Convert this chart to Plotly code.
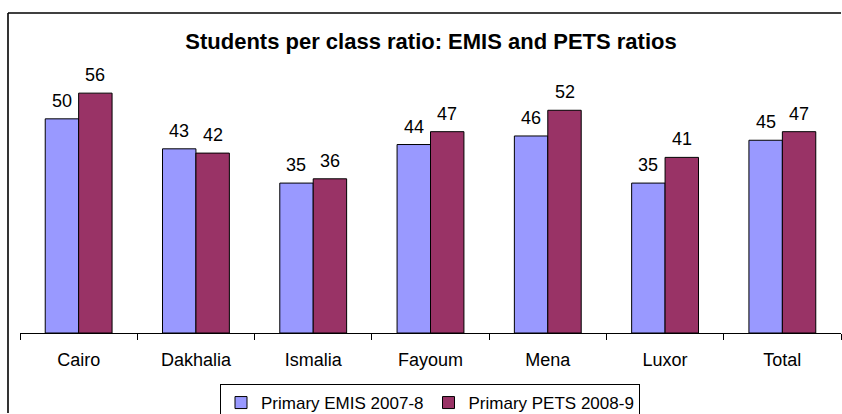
import plotly.graph_objects as go

# Students per class, by governorate
categories = ["Cairo", "Dakhalia", "Ismalia", "Fayoum", "Mena", "Luxor", "Total"]
emis_2007_8 = [50, 43, 35, 44, 46, 35, 45]
pets_2008_9 = [56, 42, 36, 47, 52, 41, 47]

series_names = ["Primary EMIS 2007-8", "Primary PETS 2008-9"]
series_colors = ["#9999FF", "#993366"]

W, H = 842, 414
ML, MR, MT, MB = 20, 1, 76, 81
plot_w = W - ML - MR
plot_h = H - MT - MB

FONT = "Liberation Sans, Arial, sans-serif"
BARGAP = 0.43
TXT = 18

fig = go.Figure()
for name, vals, col in zip(series_names, [emis_2007_8, pets_2008_9], series_colors):
    fig.add_trace(go.Bar(
        x=categories, y=vals, name=name,
        marker=dict(color=col, line=dict(color="black", width=1)),
    ))

# value labels above each bar
slot = plot_w / len(categories)
bar_w = slot * (1 - BARGAP) / 2
for i, vals in enumerate([emis_2007_8, pets_2008_9]):
    shift = (i - 0.5) * bar_w
    for c, v in zip(categories, vals):
        fig.add_annotation(x=c, y=v, text=str(v), showarrow=False,
                           xshift=shift, yshift=6, yanchor="bottom",
                           font=dict(family=FONT, size=TXT, color="black"))

# outer chart frame: left and top edges, running to the page edges
px_to_x = lambda px: (px - ML) / plot_w
px_to_y = lambda py: (H - MB - py) / plot_h
xl, xr = px_to_x(8), px_to_x(W - 1)
yt, yb = px_to_y(13), px_to_y(H - 1)
frame_line = dict(color="black", width=1.6)
fig.add_shape(type="line", xref="paper", yref="paper",
              x0=xl, x1=xl, y0=yb, y1=yt, line=frame_line)
fig.add_shape(type="line", xref="paper", yref="paper",
              x0=xl, x1=xr, y0=yt, y1=yt, line=frame_line)

fig.update_layout(
    width=W, height=H,
    margin=dict(l=ML, r=MR, t=MT, b=MB, autoexpand=False),
    paper_bgcolor="white", plot_bgcolor="white",
    barmode="group", bargap=BARGAP, bargroupgap=0,
    title=dict(text="<b>Students per class ratio: EMIS and PETS ratios</b>",
               x=431 / W, xanchor="center",
               y=1 - 41 / H, yanchor="middle",
               font=dict(family=FONT, size=22, color="black")),
    font=dict(family=FONT, size=TXT, color="black"),
    showlegend=True,
    legend=dict(orientation="h", x=px_to_x(430), xanchor="center",
                y=px_to_y(384), yanchor="top",
                bordercolor="black", borderwidth=1,
                font=dict(family=FONT, size=17, color="black"),
                itemwidth=30, traceorder="normal"),
)
fig.update_xaxes(showline=True, linecolor="black", linewidth=1,
                 ticks="outside", tickson="boundaries", ticklen=6,
                 tickcolor="black", showgrid=False, automargin=False,
                 ticklabelstandoff=10,
                 tickfont=dict(family=FONT, size=TXT, color="black"))
fig.update_yaxes(range=[0, 60], visible=False, showgrid=False, automargin=False)

fig.write_html("out.html")
